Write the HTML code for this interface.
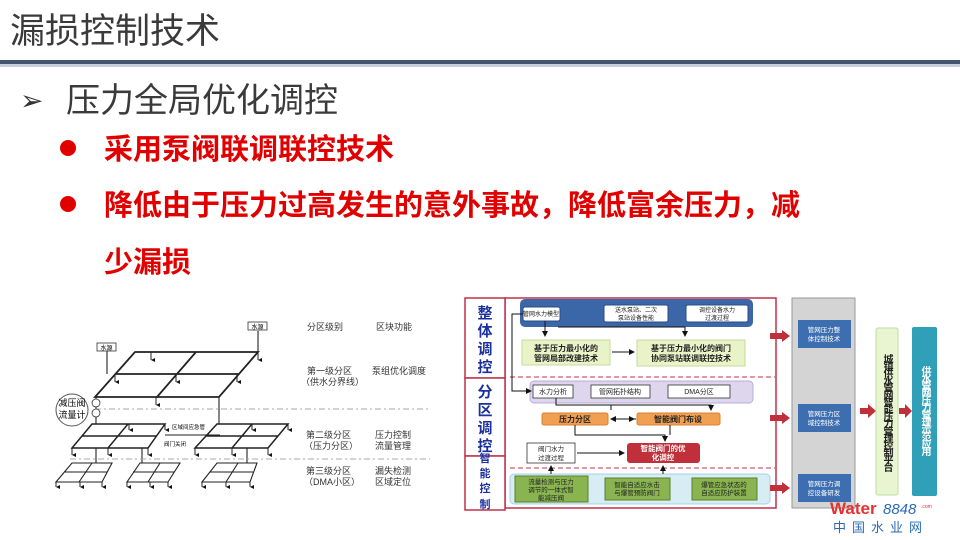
<!DOCTYPE html>
<html><head><meta charset="utf-8"><style>
body{margin:0;width:960px;height:540px;overflow:hidden;background:#fff;position:relative;font-family:"Liberation Sans","Noto Sans CJK SC",sans-serif}
.t{position:absolute;white-space:nowrap}
.v{position:absolute;writing-mode:vertical-rl;text-orientation:upright;font-weight:bold;line-height:1}
</style></head><body>
<div class="t" style="left:10px;top:12px;font-size:35px;color:#3a3a3a;line-height:40px">漏损控制技术</div>
<div style="position:absolute;left:0;top:60px;width:960px;height:4px;background:#44546f"></div>
<div style="position:absolute;left:0;top:64px;width:960px;height:3px;background:#c8d0dc"></div>
<div class="t" style="left:20px;top:83px;font-size:28px;color:#333;line-height:36px">➢</div>
<div class="t" style="left:66px;top:81px;font-size:34px;color:#3a3a3a;line-height:40px">压力全局优化调控</div>
<div style="position:absolute;left:60px;top:140px;width:16px;height:16px;border-radius:50%;background:#e00000"></div>
<div class="t" style="left:104px;top:132px;font-size:29px;color:#e00000;font-weight:bold;line-height:36px">采用泵阀联调联控技术</div>
<div style="position:absolute;left:60px;top:196px;width:16px;height:16px;border-radius:50%;background:#e00000"></div>
<div class="t" style="left:104px;top:188px;font-size:29px;color:#e00000;font-weight:bold;line-height:36px">降低由于压力过高发生的意外事故，降低富余压力，减</div>
<div class="t" style="left:104px;top:245px;font-size:29px;color:#e00000;font-weight:bold;line-height:36px">少漏损</div>

<svg width="960" height="540" style="position:absolute;left:0;top:0" font-family="Liberation Sans,Noto Sans CJK SC,sans-serif">
<defs><marker id="a" markerWidth="6" markerHeight="6" refX="5" refY="3" orient="auto"><path d="M0,0L6,3L0,6z" fill="#111"/></marker>
<marker id="s" markerWidth="4" markerHeight="4" refX="2" refY="4" orient="auto"><path d="M0,0L4,0L2,4z" fill="#111"/></marker></defs>
<g stroke="#222" stroke-width="1.8" fill="none">
<path d="M135,352 L258,352 L219,397 L95,397 Z M116,374 L239,374 M196,352 L157,397"/>
</g>
<g stroke="#222" stroke-width="1.5" fill="none">
<path d="M92,424 L165,424 L148,448 L72,448 Z M82,436 L157,436 M128,424 L108,448"/>
<path d="M217,424 L288,424 L268,448 L195,448 Z M206,436 L278,436 M252,424 L232,448"/>
</g>
<g stroke="#222" stroke-width="1.1" fill="none">
<path d="M72,463 L112,463 L102,482 L56,482 Z M64,472 L107,472 M92,463 L79,482"/>
<path d="M140,463 L180,463 L168,482 L127,482 Z M133,472 L174,472 M160,463 L148,482"/>
<path d="M217,463 L257,463 L250,482 L202,482 Z M210,472 L253,472 M238,463 L226,482"/>
<path d="M258,331 L258,352 M107,351 L107,374 M219,397 L219,424 M96,397 L96,424 M96,448 L96,463 M142,448 L142,463 M247,448 L247,463 M165,435 L220,435"/>
</g>
<g stroke="#222" stroke-width="1" fill="none" marker-end="url(#s)">
<path d="M151,352L151,360"/><path d="M258,352L258,360"/><path d="M115,374L115,382"/><path d="M176,374L176,382"/><path d="M237,374L237,382"/><path d="M156,397L156,405"/>
<path d="M129,424L129,430"/><path d="M165,424L165,430"/><path d="M72,448L72,455"/><path d="M108,448L108,455"/><path d="M148,448L148,455"/>
<path d="M252,424L252,430"/><path d="M288,424L288,430"/><path d="M195,448L195,455"/><path d="M232,448L232,455"/><path d="M268,448L268,455"/>
<path d="M56,482L56,487"/><path d="M80,482L80,487"/><path d="M102,482L102,487"/><path d="M127,482L127,487"/><path d="M150,482L150,487"/><path d="M168,482L168,487"/><path d="M202,482L202,487"/><path d="M226,482L226,487"/><path d="M250,482L250,487"/>
</g>
<g fill="none" stroke="#aaa" stroke-dasharray="6,3,2,3" stroke-width="1"><path d="M95,409L430,409 M70,459L430,459"/></g>
<rect x="97" y="343" width="19" height="8" fill="#fff" stroke="#333" stroke-width=".8"/><text x="106.5" y="350" font-size="6" text-anchor="middle">水源</text>
<rect x="248" y="322" width="19" height="8" fill="#fff" stroke="#333" stroke-width=".8"/><text x="257.5" y="329" font-size="6" text-anchor="middle">水源</text>
<circle cx="72" cy="410" r="16" fill="#fff" stroke="#555"/>
<text x="72" y="406" font-size="9" text-anchor="middle">减压阀</text><text x="72" y="418" font-size="9" text-anchor="middle">流量计</text>
<circle cx="96" cy="403" r="4" fill="#fff" stroke="#333" stroke-width=".8"/><circle cx="96" cy="413" r="4" fill="#fff" stroke="#333" stroke-width=".8"/>
<text x="172" y="429" font-size="5.5">区域间应急管</text><text x="164" y="446" font-size="5.5">阀门关闭</text>
<g font-size="9" fill="#333">
<text x="307" y="330">分区级别</text><text x="376" y="330">区块功能</text>
<text x="307" y="374">第一级分区</text><text x="301" y="385">（供水分界线）</text><text x="372" y="374">泵组优化调度</text>
<text x="306" y="438">第二级分区</text><text x="304" y="449">（压力分区）</text><text x="375" y="438">压力控制</text><text x="375" y="449">流量管理</text>
<text x="306" y="474">第三级分区</text><text x="304" y="485">（DMA小区）</text><text x="375" y="474">漏失检测</text><text x="375" y="485">区域定位</text>
</g>

<g fill="#fff" stroke="#c0304a" stroke-width="1.5">
<rect x="505" y="298" width="271" height="210"/>
<rect x="465" y="298" width="40" height="80"/><rect x="465" y="378" width="40" height="78"/><rect x="465" y="456" width="40" height="54"/>
</g>
<g font-size="15" font-weight="bold" fill="#1a2fa0" text-anchor="middle">
<text x="485" y="318">整</text><text x="485" y="336">体</text><text x="485" y="354">调</text><text x="485" y="372">控</text>
<text x="485" y="397">分</text><text x="485" y="415">区</text><text x="485" y="433">调</text><text x="485" y="451">控</text>
<text x="485" y="462" font-size="11">智</text><text x="485" y="477" font-size="11">能</text><text x="485" y="492" font-size="11">控</text><text x="485" y="508" font-size="11">制</text>
</g>
<g stroke="#c0304a" stroke-dasharray="5,3" stroke-width="1"><path d="M510,377L775,377 M510,468L775,468"/></g>
<rect x="520" y="299" width="233" height="28" rx="5" fill="#3b66a8"/>
<g fill="#fff" stroke="#2a4c84" stroke-width="1"><rect x="523" y="307" width="37" height="14" rx="2"/><rect x="604" y="305" width="64" height="17" rx="2"/><rect x="686" y="305" width="62" height="17" rx="2"/></g>
<g font-size="6" fill="#222" text-anchor="middle"><text x="541" y="316">管网水力模型</text><text x="636" y="312">送水泵站、二次</text><text x="636" y="320">泵站设备性能</text><text x="717" y="312">调控设备水力</text><text x="717" y="320">过渡过程</text></g>
<g fill="#e8f3c8" stroke="#c8d8a0"><rect x="522" y="340" width="88" height="25"/><rect x="637" y="340" width="108" height="26"/></g>
<g font-size="8" font-weight="bold" fill="#222" text-anchor="middle"><text x="566" y="351">基于压力最小化的</text><text x="566" y="361">管网局部改建技术</text><text x="691" y="351">基于压力最小化的阀门</text><text x="691" y="361">协同泵站联调联控技术</text></g>
<rect x="530" y="381" width="223" height="22" rx="4" fill="#ddd6ec" stroke="#b8aed8"/>
<g fill="#fff" stroke="#333" stroke-width=".8"><rect x="533" y="385" width="40" height="13"/><rect x="591" y="385" width="59" height="13"/><rect x="668" y="385" width="62" height="13"/></g>
<g font-size="7" fill="#222" text-anchor="middle"><text x="553" y="394">水力分析</text><text x="620" y="394">管网拓扑结构</text><text x="699" y="394">DMA分区</text></g>
<g fill="#f0a050" stroke="#d88030"><rect x="542" y="413" width="66" height="12" rx="2"/><rect x="637" y="413" width="83" height="12" rx="2"/></g>
<g font-size="8" font-weight="bold" fill="#222" text-anchor="middle"><text x="575" y="422">压力分区</text><text x="678" y="422">智能阀门布设</text></g>
<rect x="527" y="443" width="48" height="20" fill="#fff" stroke="#333" stroke-width=".8"/>
<g font-size="6.5" fill="#222" text-anchor="middle"><text x="551" y="451">阀门水力</text><text x="551" y="460">过渡过程</text></g>
<rect x="627" y="443" width="73" height="20" rx="3" fill="#c0303a"/>
<g font-size="7.5" font-weight="bold" fill="#fff" text-anchor="middle"><text x="663" y="451">智能阀门的优</text><text x="663" y="460">化调控</text></g>
<rect x="510" y="474" width="260" height="30" rx="4" fill="#d8ecf4" stroke="#a8d0e0"/>
<g fill="#8ab450" stroke="#5a8030"><rect x="515" y="476" width="73" height="26"/><rect x="605" y="478" width="65" height="22"/><rect x="692" y="478" width="65" height="22"/></g>
<g font-size="6.5" fill="#222" text-anchor="middle"><text x="551" y="484">流量检测与压力</text><text x="551" y="492">调节的一体式智</text><text x="551" y="500">能减压阀</text>
<text x="637" y="487">智能自适应水击</text><text x="637" y="495">与爆管预防阀门</text><text x="724" y="487">爆管应急状态的</text><text x="724" y="495">自适应防护装置</text></g>
<g stroke="#111" stroke-width="1" fill="none" marker-end="url(#a)">
<path d="M545,321L545,336"/><path d="M558,327L685,327L685,336"/><path d="M612,352L634,352"/>
<path d="M523,314L512,314L512,391L531,391"/>
<path d="M556,398L556,405L711,405L711,410"/><path d="M611,405L611,410" marker-end="none"/>
<path d="M613,419L634,419"/><path d="M636,419L611,419"/>
<path d="M575,425L575,435L665,435L665,441"/><path d="M670,425L670,435" marker-end="none"/>
<path d="M577,453L624,453"/><path d="M551,474L551,466"/><path d="M663,474L663,466"/>
</g>
<rect x="792" y="298" width="63" height="210" fill="#d4d4d4" stroke="#999"/>
<g fill="#3d6eb0"><rect x="798" y="320" width="53" height="28"/><rect x="798" y="404" width="53" height="28"/><rect x="798" y="474" width="53" height="28"/></g>
<g font-size="6.5" fill="#fff" text-anchor="middle"><text x="824" y="332">管网压力整</text><text x="824" y="341">体控制技术</text><text x="824" y="416">管网压力区</text><text x="824" y="425">域控制技术</text><text x="824" y="486">管网压力调</text><text x="824" y="495">控设备研发</text></g>
<g fill="#c0303a"><path d="M770,333L782,333L782,330L790,336L782,342L782,339L770,339Z"/><path d="M770,415L782,415L782,412L790,418L782,424L782,421L770,421Z"/><path d="M770,485L782,485L782,482L790,488L782,494L782,491L770,491Z"/>
<path d="M860,408L868,408L868,404L876,411L868,418L868,414L860,414Z"/><path d="M899,408L905,408L905,404L912,411L905,418L905,414L899,414Z"/></g>
<rect x="876" y="328" width="22" height="167" rx="2" fill="#e8f5d0" stroke="#c0dca0"/>
<rect x="912" y="327" width="25" height="169" rx="2" fill="#2fa0b8"/>
<text x="830" y="514" font-size="17" font-weight="bold" fill="#e83030">Water</text>
<text x="883" y="514" font-size="15" font-style="italic" fill="#2a6ab8">8848</text>
<text x="921" y="508" font-size="5" fill="#e83030">.com</text>
<text x="833" y="532" font-size="13" fill="#2a6ab8" letter-spacing="6">中国水业网</text>
</svg>
<div class="v" style="left:881px;top:354px;font-size:10px;letter-spacing:-2.8px;color:#222">城镇供水管网智能压力管理控制平台</div>
<div class="v" style="left:919px;top:366px;font-size:10px;letter-spacing:-2.7px;color:#fff">供水管网压力管理示范应用</div>
</body></html>
